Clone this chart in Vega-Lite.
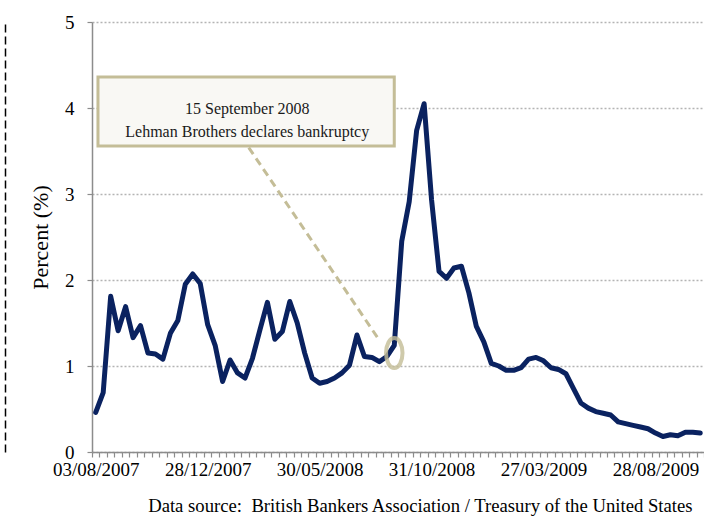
{
  "$schema": "https://vega.github.io/schema/vega-lite/v6.json",
  "width": 612,
  "height": 430,
  "autosize": {"type": "none"},
  "padding": {"left": 92, "top": 22, "right": 0, "bottom": 66},
  "background": "white",
  "config": {"view": {"stroke": null}, "font": "Liberation Serif"},
  "title": {
    "text": "Data source:\u00a0 British Bankers Association / Treasury of the United States",
    "orient": "bottom", "anchor": "end", "font": "Liberation Serif", "fontSize": 18.7,
    "fontWeight": "normal", "color": "#000000", "offset": 18, "dx": -12
  },
  "resolve": {"axis": {"y": "independent"}},
  "layer": [
    {
      "data": {"values": [
        {"date": "03/08/2007", "rate": 0.46},
        {"date": "10/08/2007", "rate": 0.69},
        {"date": "17/08/2007", "rate": 1.81},
        {"date": "24/08/2007", "rate": 1.41},
        {"date": "31/08/2007", "rate": 1.69},
        {"date": "07/09/2007", "rate": 1.33},
        {"date": "21/09/2007", "rate": 1.47},
        {"date": "05/10/2007", "rate": 1.15},
        {"date": "19/10/2007", "rate": 1.14},
        {"date": "02/11/2007", "rate": 1.08},
        {"date": "09/11/2007", "rate": 1.38},
        {"date": "16/11/2007", "rate": 1.53},
        {"date": "23/11/2007", "rate": 1.95},
        {"date": "30/11/2007", "rate": 2.07},
        {"date": "14/12/2007", "rate": 1.96},
        {"date": "28/12/2007", "rate": 1.48},
        {"date": "11/01/2008", "rate": 1.24},
        {"date": "18/01/2008", "rate": 0.82},
        {"date": "25/01/2008", "rate": 1.07},
        {"date": "08/02/2008", "rate": 0.92},
        {"date": "22/02/2008", "rate": 0.86},
        {"date": "07/03/2008", "rate": 1.09},
        {"date": "14/03/2008", "rate": 1.42},
        {"date": "21/03/2008", "rate": 1.74},
        {"date": "04/04/2008", "rate": 1.31},
        {"date": "11/04/2008", "rate": 1.40},
        {"date": "18/04/2008", "rate": 1.75},
        {"date": "25/04/2008", "rate": 1.50},
        {"date": "09/05/2008", "rate": 1.15},
        {"date": "16/05/2008", "rate": 0.86},
        {"date": "30/05/2008", "rate": 0.80},
        {"date": "13/06/2008", "rate": 0.82},
        {"date": "27/06/2008", "rate": 0.86},
        {"date": "11/07/2008", "rate": 0.92},
        {"date": "25/07/2008", "rate": 1.01},
        {"date": "01/08/2008", "rate": 1.36},
        {"date": "15/08/2008", "rate": 1.11},
        {"date": "22/08/2008", "rate": 1.10},
        {"date": "29/08/2008", "rate": 1.05},
        {"date": "05/09/2008", "rate": 1.11},
        {"date": "12/09/2008", "rate": 1.24},
        {"date": "19/09/2008", "rate": 2.45},
        {"date": "26/09/2008", "rate": 2.91},
        {"date": "03/10/2008", "rate": 3.74},
        {"date": "10/10/2008", "rate": 4.05},
        {"date": "31/10/2008", "rate": 2.93},
        {"date": "07/11/2008", "rate": 2.10},
        {"date": "14/11/2008", "rate": 2.02},
        {"date": "21/11/2008", "rate": 2.14},
        {"date": "05/12/2008", "rate": 2.16},
        {"date": "19/12/2008", "rate": 1.85},
        {"date": "02/01/2009", "rate": 1.46},
        {"date": "16/01/2009", "rate": 1.28},
        {"date": "30/01/2009", "rate": 1.03},
        {"date": "06/02/2009", "rate": 1.00},
        {"date": "13/02/2009", "rate": 0.95},
        {"date": "20/02/2009", "rate": 0.95},
        {"date": "27/02/2009", "rate": 0.98},
        {"date": "06/03/2009", "rate": 1.08},
        {"date": "13/03/2009", "rate": 1.10},
        {"date": "27/03/2009", "rate": 1.06},
        {"date": "10/04/2009", "rate": 0.98},
        {"date": "24/04/2009", "rate": 0.96},
        {"date": "01/05/2009", "rate": 0.91},
        {"date": "15/05/2009", "rate": 0.74},
        {"date": "22/05/2009", "rate": 0.57},
        {"date": "05/06/2009", "rate": 0.51},
        {"date": "12/06/2009", "rate": 0.47},
        {"date": "26/06/2009", "rate": 0.45},
        {"date": "03/07/2009", "rate": 0.43},
        {"date": "17/07/2009", "rate": 0.35},
        {"date": "24/07/2009", "rate": 0.33},
        {"date": "31/07/2009", "rate": 0.31},
        {"date": "07/08/2009", "rate": 0.29},
        {"date": "14/08/2009", "rate": 0.27},
        {"date": "28/08/2009", "rate": 0.22},
        {"date": "04/09/2009", "rate": 0.18},
        {"date": "11/09/2009", "rate": 0.20},
        {"date": "18/09/2009", "rate": 0.19},
        {"date": "25/09/2009", "rate": 0.23},
        {"date": "02/10/2009", "rate": 0.23},
        {"date": "09/10/2009", "rate": 0.22}
      ]},
      "mark": {"type": "line", "color": "#0a2260", "strokeWidth": 5, "strokeJoin": "round", "strokeCap": "round"},
      "encoding": {
        "x": {
          "field": "date", "type": "ordinal", "sort": null,
          "scale": {"type": "band", "paddingInner": 0, "paddingOuter": 0},
          "axis": {
            "title": null, "tickBand": "extent", "labelAngle": 0, "labelOverlap": false,
            "labelExpr": "indexof(['03/08/2007','28/12/2007','30/05/2008','31/10/2008','27/03/2009','28/08/2009'], datum.value) >= 0 ? datum.value : ''",
            "labelFont": "Liberation Serif", "labelFontSize": 19, "labelColor": "#000000", "labelPadding": 3,
            "tickSize": 5, "tickColor": "#8c8c8c", "tickWidth": 1.2,
            "domainColor": "#8c8c8c", "domainWidth": 1.5, "grid": false
          }
        },
        "y": {
          "field": "rate", "type": "quantitative",
          "scale": {"domain": [0, 5], "nice": false},
          "axis": {
            "title": "Percent (%)", "titleFont": "Liberation Serif", "titleFontSize": 22,
            "titleFontWeight": "normal", "titleColor": "#000000", "titlePadding": 12,
            "values": [0, 1, 2, 3, 4, 5], "format": "d", "orient": "left",
            "labelFont": "Liberation Serif", "labelFontSize": 19, "labelColor": "#000000", "labelPadding": 13,
            "tickSize": 5, "tickColor": "#8c8c8c", "tickWidth": 1.2,
            "domainColor": "#8c8c8c", "domainWidth": 1.5,
            "grid": true, "gridDash": [2, 2], "gridColor": "#b4b4b4", "gridWidth": 1.3
          }
        }
      }
    },
    {
      "data": {"values": [{}]},
      "mark": {"type": "rule", "stroke": "#c4bd97", "strokeWidth": 3, "strokeDash": [8, 5]},
      "encoding": {
        "x": {"datum": "22/02/2008", "type": "ordinal", "bandPosition": 1},
        "x2": {"datum": "29/08/2008"},
        "y": {
          "datum": 3.54, "type": "quantitative",
          "axis": {
            "orient": "left", "offset": 87, "title": null, "labels": false, "ticks": false, "grid": false,
            "domain": true, "domainColor": "#000000", "domainWidth": 1.5, "domainDash": [8, 4]
          }
        },
        "y2": {"datum": 1.30}
      }
    },
    {
      "data": {"values": [{}]},
      "mark": {"type": "point", "shape": "M -0.55 0 A 0.55 1 0 1 0 0.55 0 A 0.55 1 0 1 0 -0.55 0 Z", "size": 900, "filled": false, "stroke": "#c4bd97", "strokeWidth": 4, "opacity": 0.8},
      "encoding": {
        "x": {"datum": "12/09/2008", "type": "ordinal"},
        "y": {"datum": 1.15, "type": "quantitative", "axis": null}
      }
    },
    {
      "data": {"values": [{}]},
      "mark": {"type": "rect", "fill": "#f9f8f4", "stroke": "#c4bd97", "strokeWidth": 3},
      "encoding": {
        "x": {"datum": "03/08/2007", "type": "ordinal", "bandPosition": 0.8},
        "x2": {"datum": "12/09/2008"},
        "y": {"datum": 4.36, "type": "quantitative", "axis": null},
        "y2": {"datum": 3.558}
      }
    },
    {
      "data": {"values": [{}]},
      "mark": {"type": "text", "font": "Liberation Serif", "fontSize": 16, "color": "#1a1a1a", "align": "center", "baseline": "middle", "lineHeight": 23},
      "encoding": {
        "x": {"datum": "22/02/2008", "type": "ordinal", "bandPosition": 0.8},
        "y": {"datum": 3.983, "type": "quantitative", "axis": null},
        "text": {"value": ["15 September 2008", "Lehman Brothers declares bankruptcy"]}
      }
    }
  ]
}
